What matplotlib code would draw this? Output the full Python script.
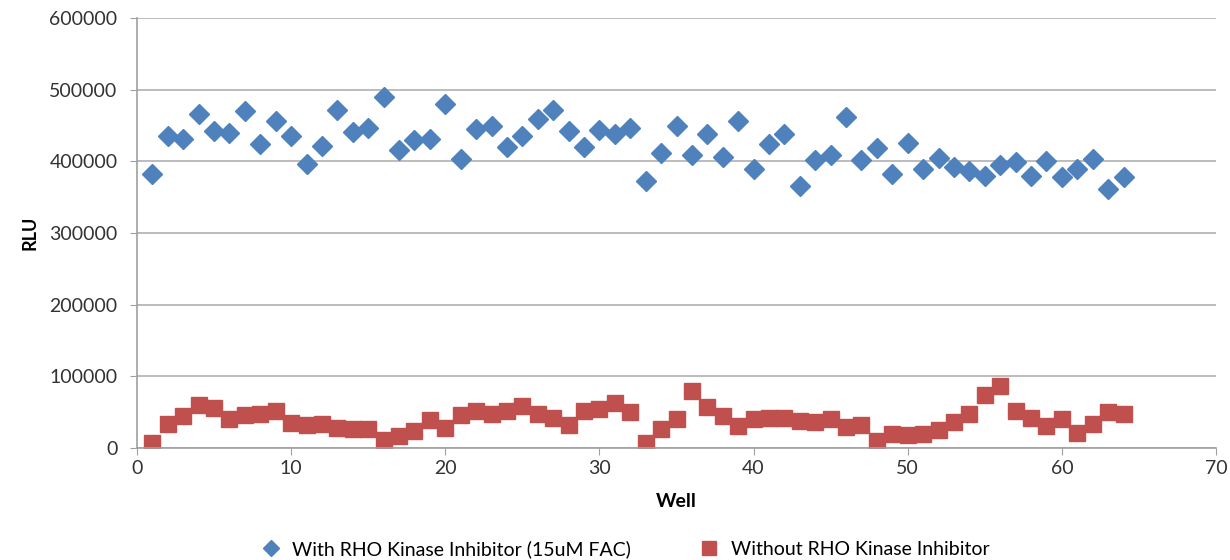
import matplotlib
matplotlib.use("Agg")
import matplotlib.pyplot as plt
import numpy as np

plt.rcParams['font.family'] = ['Lato', 'DejaVu Sans']

wells = list(range(1, 65))

with_inhibitor = [
    382000, 435000, 431000, 466000, 442000, 440000, 470000, 424000,
    456000, 435000, 396000, 421000, 472000, 441000, 447000, 490000,
    416000, 430000, 431000, 480000, 403000, 445000, 449000, 420000,
    435000, 459000, 471000, 442000, 420000, 444000, 438000, 447000,
    372000, 412000, 450000, 409000, 438000, 406000, 456000, 390000,
    424000, 438000, 365000, 402000, 409000, 462000, 402000, 419000,
    382000, 425000, 390000, 404000, 392000, 386000, 380000, 395000,
    399000, 380000, 400000, 378000, 390000, 403000, 362000, 378000,
]

without_inhibitor = [
    7000, 33000, 45000, 60000, 56000, 40000, 46000, 48000,
    51000, 35000, 32000, 34000, 28000, 27000, 27000, 11000,
    17000, 24000, 39000, 28000, 46000, 52000, 47000, 52000,
    59000, 48000, 42000, 32000, 52000, 54000, 63000, 50000,
    7000, 26000, 41000, 80000, 57000, 45000, 31000, 40000,
    42000, 42000, 37000, 36000, 41000, 29000, 32000, 10000,
    19000, 18000, 20000, 25000, 36000, 47000, 74000, 86000,
    52000, 42000, 31000, 40000, 21000, 34000, 50000, 48000,
]

fig = plt.figure(figsize=(12.3, 5.6), dpi=100)
ax = fig.add_axes([137/1230, 1 - 448/560, (1216-137)/1230, (448-18)/560])

ax.plot(wells, with_inhibitor, linestyle='none', marker='D', markersize=10,
        color='#4F81BD', label='With RHO Kinase Inhibitor (15uM FAC)')
ax.plot(wells, without_inhibitor, linestyle='none', marker='s', markersize=12,
        color='#C0504D', label='Without RHO Kinase Inhibitor')

ax.set_xlim(0, 70)
ax.set_ylim(0, 600000)
ax.set_xticks(np.arange(0, 71, 10))
ax.set_yticks(np.arange(0, 600001, 100000))
ax.grid(axis='y', color='#b0b0b0', linewidth=1.2)
ax.set_axisbelow(True)

for s in ['top', 'right']:
    ax.spines[s].set_visible(False)
for s in ['left', 'bottom']:
    ax.spines[s].set_color('#a0a0a0')
    ax.spines[s].set_linewidth(1.2)
ax.tick_params(direction='out', length=5, color='#a0a0a0', labelsize=14,
               labelcolor='#333333')
ax.tick_params(axis='y', pad=9)

ax.set_xlabel('Well', fontsize=14, fontweight='bold', labelpad=12)
ax.set_ylabel('RLU', fontsize=13, fontweight='bold', labelpad=8)

ax.legend(loc='upper center', bbox_to_anchor=(0.448, -0.173), ncol=2,
          frameon=False, fontsize=14, handletextpad=0.1, columnspacing=3,
          markerscale=0.8)

fig.savefig('out.png')
